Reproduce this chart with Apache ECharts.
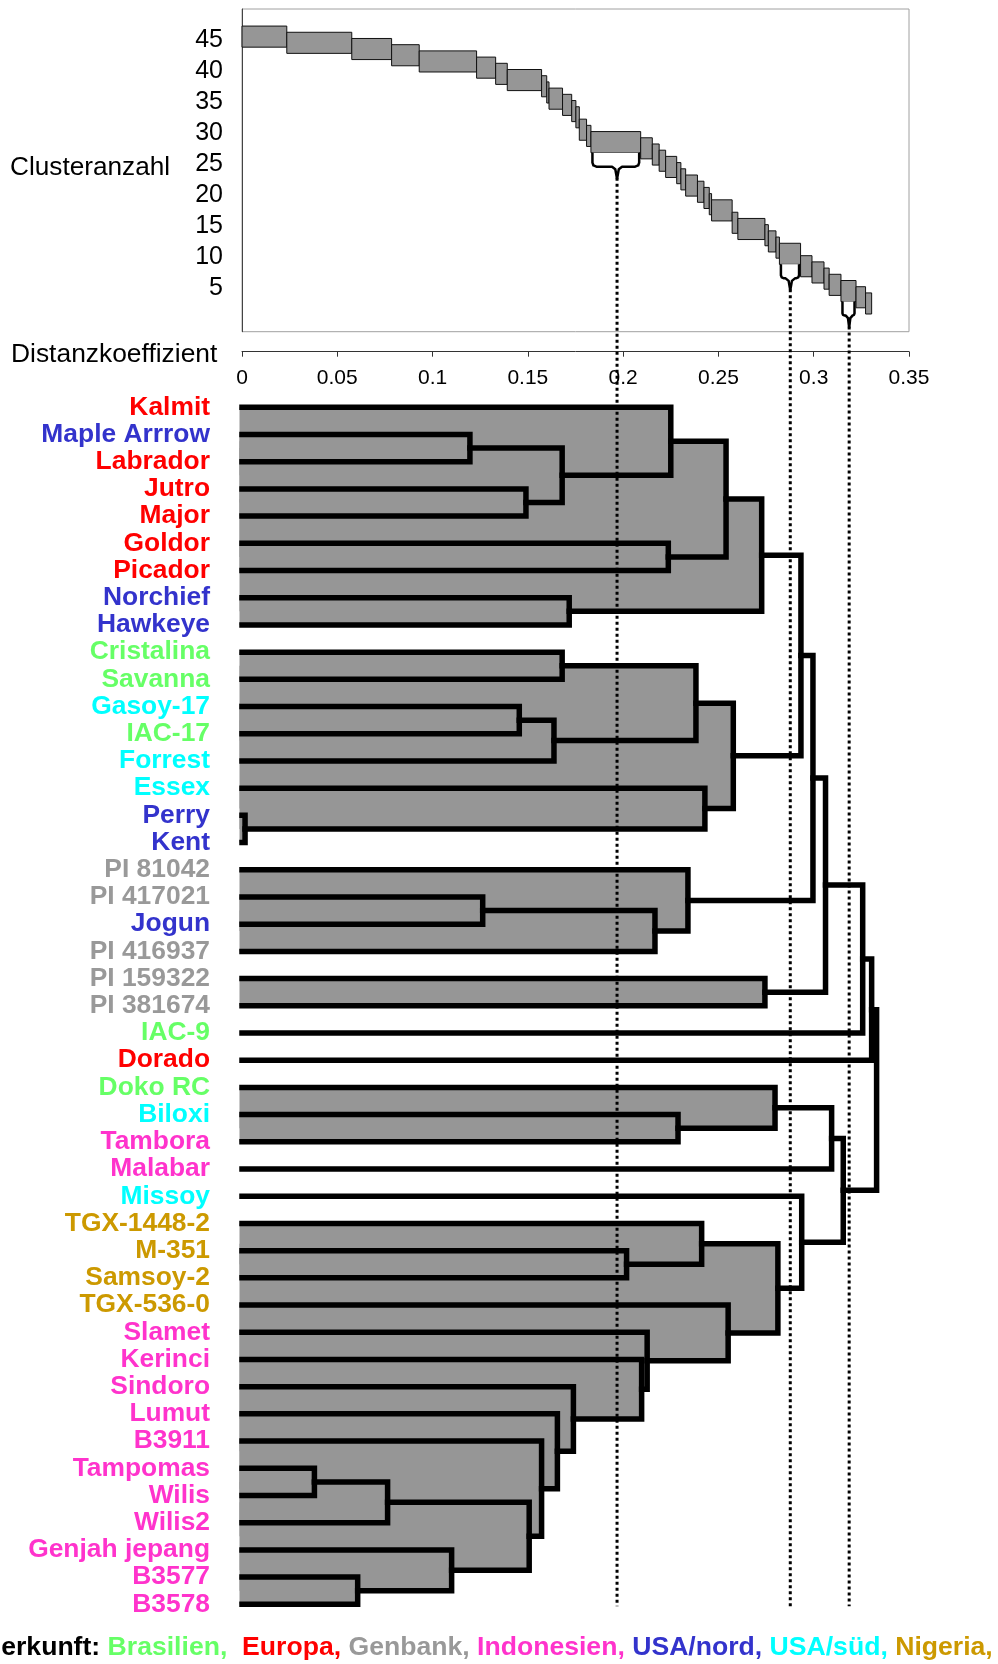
<!DOCTYPE html>
<html><head><meta charset="utf-8">
<script src="https://cdn.jsdelivr.net/npm/echarts@6/dist/echarts.min.js"></script>
<style>html,body{margin:0;padding:0;background:#fff}#c{width:998px;height:1664px}</style>
</head><body><div id="c"></div>
<script>
// ---------- data ----------
const genotypes = ['Kalmit','Maple Arrrow','Labrador','Jutro','Major','Goldor','Picador','Norchief','Hawkeye',
  'Cristalina','Savanna','Gasoy-17','IAC-17','Forrest','Essex','Perry','Kent',
  'PI 81042','PI 417021','Jogun','PI 416937','PI 159322','PI 381674','IAC-9','Dorado',
  'Doko RC','Biloxi','Tambora','Malabar','Missoy','TGX-1448-2','M-351','Samsoy-2','TGX-536-0',
  'Slamet','Kerinci','Sindoro','Lumut','B3911','Tampomas','Wilis','Wilis2','Genjah jepang','B3577','B3578'];
const origins = ['Europa','USA/nord','Europa','Europa','Europa','Europa','Europa','USA/nord','USA/nord',
  'Brasilien','Brasilien','USA/süd','Brasilien','USA/süd','USA/süd','USA/nord','USA/nord',
  'Genbank','Genbank','USA/nord','Genbank','Genbank','Genbank','Brasilien','Europa',
  'Brasilien','USA/süd','Indonesien','Indonesien','USA/süd','Nigeria','Nigeria','Nigeria','Nigeria',
  'Indonesien','Indonesien','Indonesien','Indonesien','Indonesien','Indonesien','Indonesien','Indonesien','Indonesien','Indonesien','Indonesien'];
const originOrder = ['Brasilien','Europa','Genbank','Indonesien','USA/nord','USA/süd','Nigeria'];
const legendTitle = 'Herkunft:';

// linkage: ids >= 45 refer to merge (45 + index)
const mergeLeft  = [15,39,43,46,42,1,18,11,3,48,38,52,37,50,9,7,36,31,35,34,51,5,0,26,17,59,30,14,67,33,70,73,21,25,71,76,29,80,82,78,84,83,86,87];
const mergeRight = [16,40,44,41,47,2,19,12,4,49,54,13,55,53,10,8,57,32,61,63,20,6,58,27,65,56,62,45,66,64,72,60,22,68,74,75,79,69,77,28,81,23,24,85];
const mergeHeight= [0.0016,0.038,0.0607,0.0764,0.110,0.1196,0.1263,0.1455,0.149,0.1507,
  0.1572,0.1637,0.1655,0.168,0.168,0.1717,0.1739,0.2018,0.2097,0.2126,
  0.2167,0.2237,0.225,0.2288,0.234,0.2382,0.2412,0.2429,0.254,0.2551,
  0.2578,0.2727,0.2744,0.2797,0.2812,0.2933,0.2937,0.2996,0.3062,0.3094,
  0.3155,0.3257,0.3304,0.333];

// cluster-count steps (top panel)
const stepCounts = [45,44,43,42,41,40,39,38,37,36,35,34,33,32,30,29,28,27,26,25,24,23,22,21,20,19,18,17,15,14,13,12,11,10,8,7,6,5,4,3,2];
const stepBreaks = [0,0.0235,0.0576,0.0785,0.0930,0.1231,0.1331,0.1392,0.1572,0.1599,0.1611,0.1682,0.1730,0.1752,0.1770,0.1808,
  0.1831,0.2092,0.2153,0.2189,0.2223,0.2281,0.2303,0.2328,0.2390,0.2424,0.2452,0.2464,0.2572,0.2602,0.2744,0.2762,0.2802,0.2820,
  0.2931,0.2991,0.3054,0.3081,0.3143,0.3222,0.3272,0.3304];

const cutLevels = [0.1968, 0.2877, 0.3186];
const cutCounts = [28, 10, 4];

const countTicks = [5,10,15,20,25,30,35,40,45];
const distMin = 0, distMax = 0.35, distStep = 0.05;

// ---------- styles ----------
const FONT = 'Liberation Sans, Arial, Helvetica, sans-serif';
const originColors = {'Brasilien':'#66ff66','Europa':'#ff0000','Genbank':'#999999','Indonesien':'#ff33cc',
  'USA/nord':'#3333cc','USA/süd':'#00ffff','Nigeria':'#cc9900'};
const GREY = '#969696';

// ---------- derived ----------
const N = genotypes.length;
const nodeY = genotypes.map((_, i) => i);
const nodeH = genotypes.map(() => 0);
mergeHeight.forEach((h, k) => {
  nodeY.push((nodeY[mergeLeft[k]] + nodeY[mergeRight[k]]) / 2);
  nodeH.push(h);
});
const linkData = mergeHeight.map((h, k) => [h, nodeY[mergeLeft[k]], nodeY[mergeRight[k]], nodeH[mergeLeft[k]], nodeH[mergeRight[k]]]);
const fillData = linkData.filter(d => d[0] < cutLevels[1]);
const stepData = stepCounts.map((n, i) => [stepBreaks[i], stepBreaks[i + 1], n]);
const bracketData = cutLevels.map((c, i) => {
  const idx = stepCounts.indexOf(cutCounts[i]);
  return [c, cutCounts[i], stepBreaks[idx], stepBreaks[idx + 1]];
});
const BAR_UP = 2.25, BAR_DN = 1.15;
const BR_DEPTH = 14, BR_TIP = 12;

const chart = echarts.init(document.getElementById('c'));
const option = {
  animation: false,
  backgroundColor: '#fff',
  textStyle: { fontFamily: FONT },
  grid: [
    { left: 242, width: 667, top: 9, height: 322.7, show: true, borderColor: '#a0a0a0', borderWidth: 1, backgroundColor: 'transparent' },
    { left: 242, width: 667, top: 407.3, height: 1197 }
  ],
  xAxis: [
    { type: 'value', gridIndex: 0, min: distMin, max: distMax, interval: distStep, position: 'bottom', offset: 20,
      axisLine: { show: true, onZero: false, lineStyle: { color: '#333', width: 1 } },
      axisTick: { show: true, length: 5, lineStyle: { color: '#333' } },
      splitLine: { show: false },
      axisLabel: { fontSize: 21, color: '#000', margin: 16, fontFamily: FONT } },
    { type: 'value', gridIndex: 1, min: distMin, max: distMax, show: false, splitLine: { show: false } }
  ],
  yAxis: [
    { type: 'value', gridIndex: 0, min: -2, max: 50,
      axisLine: { show: true, onZero: false, lineStyle: { color: '#444', width: 1 } },
      axisTick: { show: false }, splitLine: { show: false },
      axisLabel: { customValues: countTicks, fontSize: 25, color: '#000', margin: 19, fontFamily: FONT } },
    { type: 'value', gridIndex: 1, min: 0, max: N - 1, inverse: true,
      axisLine: { show: false }, axisTick: { show: false }, splitLine: { show: false },
      axisLabel: { customValues: genotypes.map((_, i) => i), interval: 0, margin: 32,
        fontSize: 26.4, fontWeight: 'bold', fontFamily: FONT,
        formatter: v => genotypes[Math.round(v)],
        color: v => originColors[origins[Math.round(+v)]] } }
  ],
  series: [
    { type: 'custom', xAxisIndex: 0, yAxisIndex: 0, data: stepData, z: 2,
      renderItem: (params, api) => {
        const p0 = api.coord([api.value(0), api.value(2) + BAR_UP]);
        const p1 = api.coord([api.value(1), api.value(2) - BAR_DN]);
        return { type: 'rect', shape: { x: p0[0], y: p0[1], width: p1[0] - p0[0], height: p1[1] - p0[1] },
          style: { fill: GREY, stroke: '#111', lineWidth: 1 } };
      } },
    { type: 'custom', xAxisIndex: 0, yAxisIndex: 0, data: bracketData, z: 3,
      renderItem: (params, api) => {
        const n = api.value(1);
        const xm = api.coord([api.value(0), n])[0];
        const yT = api.coord([api.value(0), n - BAR_DN])[1];
        const x1 = api.coord([api.value(2), n])[0] + 1.5;
        const x2 = api.coord([api.value(3), n])[0] - 1.5;
        const yB = yT + BR_DEPTH;
        const r = Math.min(4, (xm - x1) / 3), t = Math.min(5, (xm - x1) / 2);
        const pts = [[x1, yT], [x1, yB - r], [x1 + r * 0.25, yB - r * 0.3], [x1 + r, yB], [xm - t, yB], [xm - t * 0.35, yB + 2.5], [xm, yB + BR_TIP],
          [xm + t * 0.35, yB + 2.5], [xm + t, yB], [x2 - r, yB], [x2 - r * 0.25, yB - r * 0.3], [x2, yB - r], [x2, yT]];
        return { type: 'group', children: [
          { type: 'polygon', shape: { points: pts }, style: { fill: '#fff', stroke: null } },
          { type: 'polyline', shape: { points: pts }, style: { fill: null, stroke: '#000', lineWidth: 2.5, lineJoin: 'round' } }
        ] };
      } },
    { type: 'custom', xAxisIndex: 1, yAxisIndex: 1, data: fillData, z: 2,
      renderItem: (params, api) => {
        const p0 = api.coord([0, api.value(1)]);
        const p1 = api.coord([api.value(0), api.value(2)]);
        return { type: 'rect', shape: { x: p0[0] - 2.5, y: p0[1], width: p1[0] - p0[0] + 2.5, height: p1[1] - p0[1] },
          style: { fill: GREY } };
      } },
    { type: 'custom', xAxisIndex: 1, yAxisIndex: 1, data: linkData, z: 5,
      renderItem: (params, api) => {
        const h = api.value(0), ya = api.value(1), yb = api.value(2), ha = api.value(3), hb = api.value(4);
        const pts = [api.coord([ha, ya]), api.coord([h, ya]), api.coord([h, yb]), api.coord([hb, yb])];
        return { type: 'polyline', shape: { points: pts },
          style: { fill: null, stroke: '#000', lineWidth: 5.5, lineCap: 'square', lineJoin: 'miter' } };
      } }
  ]
};
chart.setOption(option);

// dotted cut lines + texts
const graphics = [];
cutLevels.forEach((c, i) => {
  const top = chart.convertToPixel({ xAxisIndex: 0, yAxisIndex: 0 }, [c, cutCounts[i] - BAR_DN]);
  const bot = chart.convertToPixel({ xAxisIndex: 1, yAxisIndex: 1 }, [c, N - 1]);
  graphics.push({ type: 'line', z: 10, shape: { x1: top[0], y1: top[1] + BR_DEPTH + BR_TIP - 1, x2: bot[0], y2: bot[1] + 2 },
    style: { stroke: '#000', lineWidth: 3, lineDash: [3, 3] } });
});
graphics.push({ type: 'text', x: 10, y: 168, z: 10,
  style: { text: 'Clusteranzahl', fontSize: 26.2, fontFamily: FONT, fill: '#000', align: 'left', verticalAlign: 'middle' } });
graphics.push({ type: 'text', x: 11, y: 355, z: 10,
  style: { text: 'Distanzkoeffizient', fontSize: 26.4, fontFamily: FONT, fill: '#000', align: 'left', verticalAlign: 'middle' } });
const LEG_FS = 26.6;
const rich = { k: { fill: '#000', fontSize: LEG_FS, fontWeight: 'bold', fontFamily: FONT } };
let legendText = '{k|' + legendTitle + '} ';
originOrder.forEach((o, i) => {
  rich['o' + i] = { fill: originColors[o], fontSize: LEG_FS, fontWeight: 'bold', fontFamily: FONT };
  legendText += '{o' + i + '|' + o + ',}' + (i === 0 ? '{k|  }' : '{k| }');
});
graphics.push({ type: 'text', x: -18, y: 1648, z: 10,
  style: { text: legendText, rich: rich, fontSize: LEG_FS, fontWeight: 'bold', fontFamily: FONT, align: 'left', verticalAlign: 'middle' } });
chart.setOption({ graphic: graphics });
</script>
</body></html>
